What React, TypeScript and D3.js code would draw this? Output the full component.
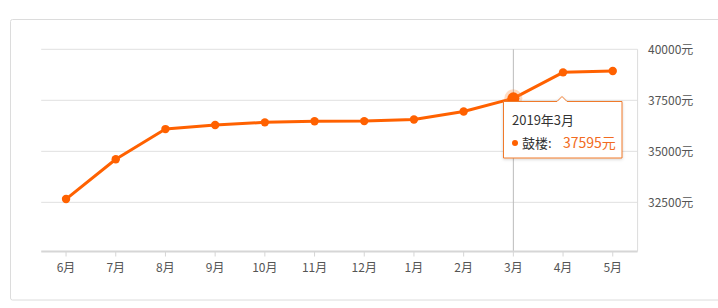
import React from "react";
import * as d3 from "d3";

const months = ["6月", "7月", "8月", "9月", "10月", "11月", "12月", "1月", "2月", "3月", "4月", "5月"];
const prices = [32660, 34610, 36090, 36290, 36420, 36470, 36480, 36560, 36950, 37595, 38870, 38940];
const yTicks = [32500, 35000, 37500, 40000];
const hoverIndex = 9;
const tooltipTitle = "2019年3月";
const seriesName = "鼓楼";

const W = 718;
const H = 308;
const font = "'Microsoft YaHei', 'Noto Sans CJK SC', 'Noto Sans', sans-serif";

export default function App() {
  const left = 41.2;
  const right = 637.6;
  const top = 49.3;
  const bottom = 251.5;
  const x = d3.scaleBand<string>().domain(months).range([left, right]);
  const y = d3.scaleLinear().domain([30090, 40000]).range([bottom, top]);
  const cx = (m: string) => (x(m) as number) + x.bandwidth() / 2;
  const line = d3
    .line<number>()
    .x((_, i) => cx(months[i]))
    .y((d) => y(d));
  const orange = "#ff6100";
  const hx = cx(months[hoverIndex]);
  const hy = y(prices[hoverIndex]);
  const tipL = 503;
  const tipT = 101;
  const tipW = 119;
  const tipH = 57;
  const arrowX = 562;

  return (
    <svg width={W} height={H} style={{ position: "absolute", left: 0, top: 0, fontFamily: font }}>
      <defs>
        <filter id="sh" x="-20%" y="-20%" width="140%" height="150%">
          <feDropShadow dx="0" dy="1" stdDeviation="1.5" floodColor="#000" floodOpacity="0.18" />
        </filter>
      </defs>
      <rect x={10.5} y={19.5} width={740} height={280.5} rx={2} fill="#fff" stroke="#dcdcdc" />
      {yTicks.map((t) => (
        <g key={t}>
          <line x1={left} x2={right} y1={y(t)} y2={y(t)} stroke="#e0e0e0" strokeWidth={1} />
          <text x={648} y={y(t)} dy="0.35em" fontSize={12} fill="#555">
            {t}元
          </text>
        </g>
      ))}
      <line x1={right} x2={right} y1={top} y2={bottom} stroke="#dcdcdc" />
      <line x1={hx} x2={hx} y1={top} y2={bottom} stroke="#bbb" />
      <line x1={left} x2={right} y1={bottom} y2={bottom} stroke="#d6d6d6" strokeWidth={2} />
      {months.map((m) => (
        <g key={m}>
          <line x1={cx(m)} x2={cx(m)} y1={bottom} y2={bottom + 5} stroke="#d6d6d6" />
          <text x={cx(m)} y={268} dy="0.35em" textAnchor="middle" fontSize={12} fill="#555">
            {m}
          </text>
        </g>
      ))}
      <path d={line(prices) || ""} fill="none" stroke={orange} strokeWidth={3} strokeLinejoin="round" />
      {prices.map((v, i) =>
        i === hoverIndex ? null : <circle key={i} cx={cx(months[i])} cy={y(v)} r={4.2} fill={orange} />
      )}
      <circle cx={hx} cy={hy} r={9} fill="#ff8a3d" opacity={0.3} />
      <circle cx={hx} cy={hy} r={6} fill={orange} />
      <g filter="url(#sh)">
        <path
          d={`M${tipL + 0.5},${tipT + 0.5} H${arrowX - 5} L${arrowX},${tipT - 4.5} L${arrowX + 5},${tipT + 0.5} H${tipL + tipW} V${tipT + tipH} H${tipL + 0.5} Z`}
          fill="#fff"
          stroke="#f07a2c"
          strokeWidth={1}
        />
      </g>
      <text x={512} y={120} dy="0.35em" fontSize={13} fill="#333">
        {tooltipTitle}
      </text>
      <circle cx={515} cy={143} r={3} fill={orange} />
      <text x={522} y={143} dy="0.35em" fontSize={13} fill="#333">
        {seriesName}:
      </text>
      <text x={563} y={143} dy="0.35em" fontSize={14} fill="#f26b21">
        {prices[hoverIndex]}元
      </text>
    </svg>
  );
}
